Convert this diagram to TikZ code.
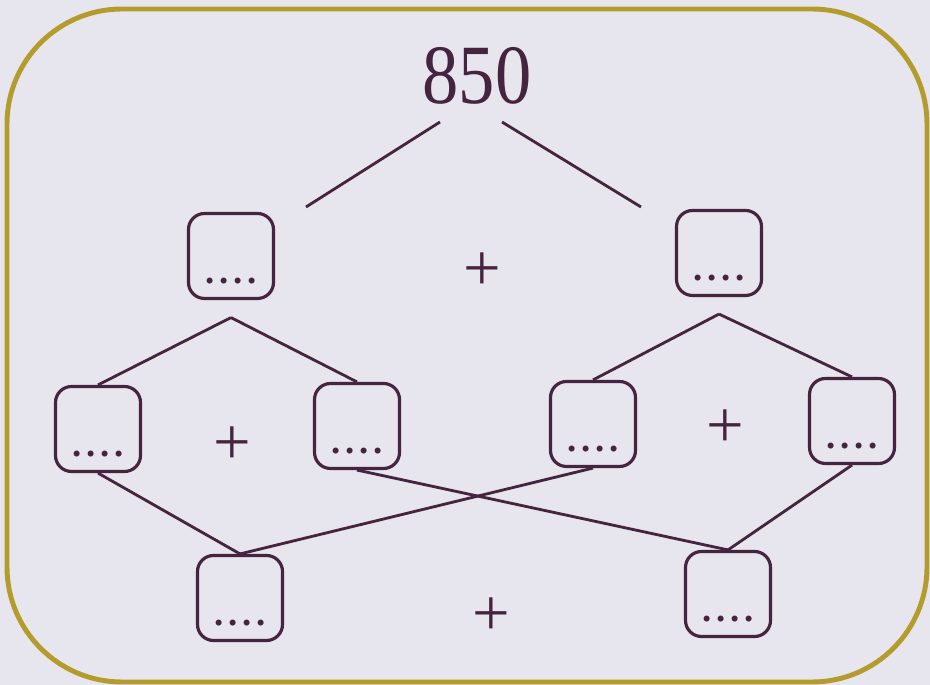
\documentclass[tikz,border=0pt]{standalone}
\usepackage{fontspec}
\usepackage{tikz}
\setmainfont{Liberation Serif}
\newfontfamily\numfont[FakeStretch=0.86]{Liberation Serif}
\definecolor{plum}{HTML}{45243F}
\definecolor{olive}{HTML}{B49C2C}
\definecolor{paper}{HTML}{E7E5ED}
\tikzset{slot/.style={draw=plum, line width=1.8pt, rounded corners=0.32cm,
                      minimum width=1.7cm, text height=1.12cm, text depth=0pt,
                      inner ysep=0.29cm, inner xsep=0pt, text=plum,
                      font=\bfseries\fontsize{21}{21}\selectfont}}
\tikzset{sign/.style={text=plum, yshift=-0.1cm, font=\fontsize{38}{38}\selectfont}}
\def\dotrow{.\kern2.8pt.\kern2.8pt.\kern2.8pt.}

\begin{document}
\begin{tikzpicture}[x=0.02cm, y=-0.02cm, line width=1.6pt, draw=plum]
    % paper and frame
    \fill[paper] (0,0) rectangle (930,685);
    \draw[olive, line width=2.8pt, rounded corners=2.3cm] (7,9) rectangle (927,682);

    % the sum on top
    \node[text=plum, font=\numfont\fontsize{48}{48}\selectfont] (total) at (477,76) {850};
    \coordinate (tl-a) at (440,122);
    \coordinate (tl-b) at (306,207);
    \coordinate (tr-a) at (502,122);
    \coordinate (tr-b) at (641,207);
    \draw (tl-a) -- (tl-b);
    \draw (tr-a) -- (tr-b);

    % Draw the boxes, row by row
    \foreach \name / \x / \y in {a/231/256, b/719/253}
        \node[slot] (T-\name) at (\x,\y) {\dotrow};
    \foreach \name / \x / \y in {1/98/429, 2/357/426, 3/593/424, 4/852/421}
        \node[slot] (M-\name) at (\x,\y) {\dotrow};
    \foreach \name / \x / \y in {a/240/598, b/728/594}
        \node[slot] (B-\name) at (\x,\y) {\dotrow};

    % plus signs between the boxes
    \node[sign] (P-top) at (482,267) {+};
    \node[sign] (P-left) at (232,441) {+};
    \node[sign] (P-right) at (725,424) {+};
    \node[sign] (P-bot) at (491,612) {+};

    % split the top boxes
    \coordinate (F-a) at ([yshift=-0.35cm]T-a.south);
    \coordinate (F-b) at ([yshift=-0.34cm]T-b.south);
    \foreach \dest in {1,2}
        \draw (F-a) -- (M-\dest.north);
    \foreach \dest in {3,4}
        \draw (F-b) -- (M-\dest.north);

    % join the middle boxes crosswise
    \foreach \source / \dest in {1/a, 3/a, 2/b, 4/b}
        \draw (M-\source.south) -- (B-\dest.north);
\end{tikzpicture}
\end{document}
